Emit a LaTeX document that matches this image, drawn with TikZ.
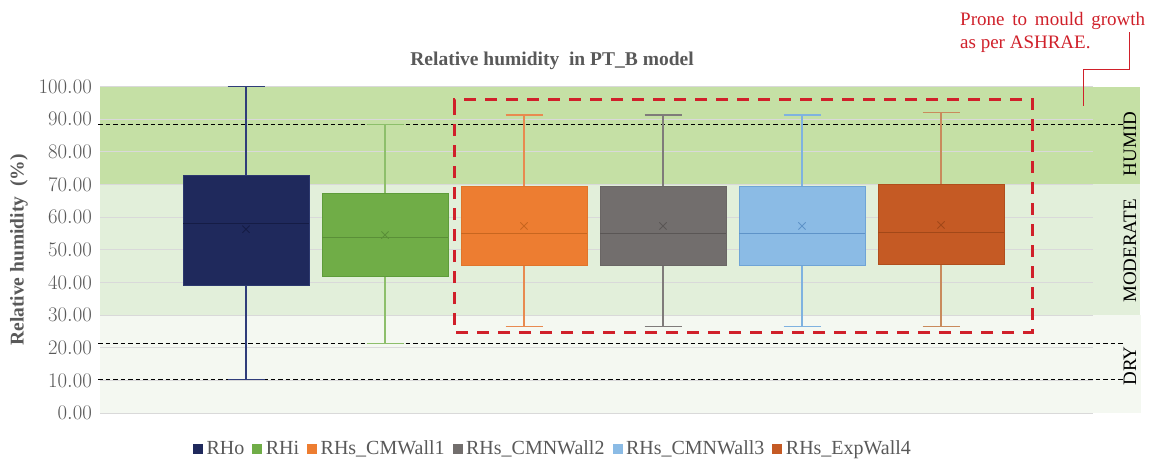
\documentclass[tikz,border=0pt]{standalone}
\usepackage{fontspec}
\setmainfont{Liberation Serif}

% zone bands and chart furniture
\definecolor{humid}{HTML}{C5E0A5}
\definecolor{moderate}{HTML}{E2EFDA}
\definecolor{dry}{HTML}{F4F8F1}
\definecolor{grid}{HTML}{D9D9D9}
\definecolor{txt}{HTML}{595959}
\definecolor{alert}{HTML}{D0202A}

% series colours: fill, edge, whisker, median
\definecolor{RHofill}{HTML}{1F295C}\definecolor{RHoedge}{HTML}{2C386E}
\definecolor{RHowhisk}{HTML}{2F3D7A}\definecolor{RHomed}{HTML}{151C45}
\definecolor{RHifill}{HTML}{70AD47}\definecolor{RHiedge}{HTML}{5E9C3A}
\definecolor{RHiwhisk}{HTML}{8DBF6B}\definecolor{RHimed}{HTML}{5A8F38}
\definecolor{Wonefill}{HTML}{ED7D31}\definecolor{Woneedge}{HTML}{E0752A}
\definecolor{Wonewhisk}{HTML}{E88A50}\definecolor{Wonemed}{HTML}{C8661F}
\definecolor{Wtwofill}{HTML}{726E6D}\definecolor{Wtwoedge}{HTML}{6A6665}
\definecolor{Wtwowhisk}{HTML}{7F7B7A}\definecolor{Wtwomed}{HTML}{5A5655}
\definecolor{Wthreefill}{HTML}{8BBBE5}\definecolor{Wthreeedge}{HTML}{6FA4D6}
\definecolor{Wthreewhisk}{HTML}{7FB2E0}\definecolor{Wthreemed}{HTML}{5E93C8}
\definecolor{Wfourfill}{HTML}{C55A24}\definecolor{Wfouredge}{HTML}{B04E1C}
\definecolor{Wfourwhisk}{HTML}{C98A5C}\definecolor{Wfourmed}{HTML}{A24818}

% #1 centre, #2 min, #3 q1, #4 median, #5 q3, #6 max, #7 mean, #8 colour prefix
\newcommand\rhbox[8]{%
  \draw[#8whisk, line width=1.2pt]
    (#1,#5) -- (#1,#6) ({#1-18.5},#6) -- ({#1+18.5},#6)
    (#1,#3) -- (#1,#2) ({#1-18.5},#2) -- ({#1+18.5},#2);
  \filldraw[fill=#8fill, draw=#8edge, line width=1pt]
    ({#1-63},#3) rectangle ({#1+63},#5);
  \draw[#8med, line width=1pt] ({#1-63},#4) -- ({#1+63},#4);
  \draw[#8med, line width=0.9pt]
    (#1,#7) +(-3.6pt,-3.6pt) -- +(3.6pt,3.6pt)
    (#1,#7) +(-3.6pt,3.6pt) -- +(3.6pt,-3.6pt);
}
\newcommand\lgsq[1]{\textcolor{#1}{\rule[0.5pt]{10pt}{10pt}}\hspace{3.5pt}}

\begin{document}
\begin{tikzpicture}[x=1pt, y=-1pt,
  tick/.style={anchor=east, text=txt, font=\fontsize{20}{23}\selectfont, inner sep=0pt},
  zone/.style={rotate=90, text=black, font=\fontsize{19}{22}\selectfont, inner sep=0pt},
  heading/.style={text=txt, font=\fontsize{19.5}{22}\selectfont\bfseries, inner sep=0pt},
  note/.style={anchor=base west, text=alert, font=\fontsize{19}{23}\selectfont, inner sep=0pt},
  legend/.style={text=txt, font=\fontsize{20}{23}\selectfont, inner sep=0pt},
  limit/.style={black, line width=1pt, dash pattern=on 4.5pt off 3pt},
  focus/.style={alert, line width=3pt, dash pattern=on 12pt off 9pt}]

\useasboundingbox (0,0) rectangle (1150,461);
\fill[white] (0,0) rectangle (1150,461);

% plot area in data units: x in pixels, y in % RH
\begin{scope}[shift={(0,413)}, y=3.265pt]
  \fill[dry]      (100,0)  rectangle (1141,30);
  \fill[moderate] (100,30) rectangle (1140,70);
  \fill[humid]    (100,70) rectangle (1140,100);
  \foreach \v in {0,10,...,100}
    \draw[grid, line width=1pt] (100,\v) -- (1093,\v);
  \foreach \v in {0,10,...,100}
    \node[tick] (tick\v) at (92,\v) {\pgfmathprintnumber[fixed,fixed zerofill,precision=2]{\v}};

  % ASHRAE thresholds
  \draw[limit] (98,88.5) -- (1123,88.5);
  \draw[limit] (98,21.2) -- (1123,21.2);
  \draw[limit] (98,10.3) -- (1123,10.3);

  \rhbox{246}{10.2}{39.0}{57.9}{72.8}{100}{56.3}{RHo}
  \rhbox{385}{21.3}{41.7}{53.8}{67.3}{88.3}{54.5}{RHi}
  \rhbox{524}{26.6}{45.3}{55.0}{69.5}{91.3}{57.3}{Wone}
  \rhbox{663}{26.6}{45.3}{55.0}{69.5}{91.3}{57.3}{Wtwo}
  \rhbox{802}{26.6}{45.3}{55.0}{69.5}{91.3}{57.3}{Wthree}
  \rhbox{941}{26.6}{45.6}{55.2}{69.9}{92.0}{57.6}{Wfour}
\end{scope}

% highlighted wall series
\draw[focus] (454,110) -- (454,99) -- (1032,99) -- (1032,332) -- (454,332) -- cycle;

% zone names
\node[zone] (humidlab) at (1130,144) {HUMID};
\node[zone] (modlab)   at (1130,251) {MODERATE};
\node[zone] (drylab)   at (1130,366) {DRY};

% titles
\node[heading] (title) at (552,61) {Relative humidity\ \ in PT\_B model};
\node[heading, rotate=90] (ylab) at (19,250) {Relative humidity\ \ (\%)};

% annotation with leader
\node[note] (note1) at (960,25) {\makebox[185pt][s]{Prone to mould growth}};
\node[note] (note2) at (960,48) {as per ASHRAE.};
\coordinate (lead) at (1129,32);
\coordinate (bend) at (1083,69);
\coordinate (tip)  at (1083,106);
\draw[alert, line width=1pt] (lead) |- (bend) -- (tip);

% legend
\node[legend] (legend) at (552,450) {%
  \lgsq{RHofill}RHo\hspace{8pt}%
  \lgsq{RHifill}RHi\hspace{8pt}%
  \lgsq{Wonefill}RHs\_CMWall1\hspace{8pt}%
  \lgsq{Wtwofill}RHs\_CMNWall2\hspace{8pt}%
  \lgsq{Wthreefill}RHs\_CMNWall3\hspace{8pt}%
  \lgsq{Wfourfill}RHs\_ExpWall4};
\end{tikzpicture}
\end{document}
